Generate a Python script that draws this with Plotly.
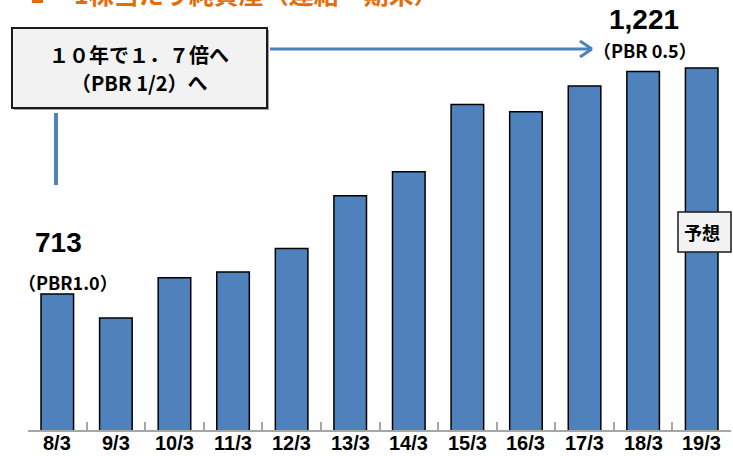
import plotly.graph_objects as go

# ---- data ----
categories = ["8/3", "9/3", "10/3", "11/3", "12/3", "13/3", "14/3",
              "15/3", "16/3", "17/3", "18/3", "19/3"]
net_assets = [713, 658, 750, 763, 817, 937, 992, 1146, 1129, 1188, 1221, 1229]
start_label = "713"
start_pbr = "（PBR1.0）"
end_label = "1,221"
end_pbr = "（PBR 0.5）"
box_line1 = "１０年で１．７倍へ"
box_line2 = "（PBR 1/2）へ"
forecast_label = "予想"
title_text = "1株当たり純資産（連結・期末）"

# ---- layout geometry ----
W, H = 733, 456
L, R, T, B = 28, 2, 36, 26
PW = W - L - R
PH = H - T - B
Y0 = 402
Y1 = Y0 + PH * 2.285

def fx(px):
    return (px - L) / PW

def fy(py):
    return (H - B - py) / PH

JP = "Noto Sans CJK JP, sans-serif"
LAT = "Liberation Sans, sans-serif"
BLUE = "#4F81BD"

fig = go.Figure()
fig.add_trace(go.Bar(
    x=categories, y=net_assets,
    marker=dict(color=BLUE, line=dict(color="#000000", width=1.5)),
    hoverinfo="skip",
))

shapes = []
annotations = []

def note(text, px, py, size, family=JP, color="#000000", xanchor="center"):
    annotations.append(dict(text=text, xref="paper", yref="paper",
                            x=fx(px), y=fy(py), xanchor=xanchor, yanchor="middle",
                            showarrow=False,
                            font=dict(family=family, size=size, color=color, weight="bold")))

# category labels under the axis
for cat in categories:
    annotations.append(dict(text=cat, xref="x", yref="paper", x=cat, y=fy(443),
                            xanchor="center", yanchor="middle", showarrow=False,
                            font=dict(family=LAT, size=20, color="#000000", weight="bold")))

# title (cut at the top)
shapes.append(dict(type="rect", xref="paper", yref="paper",
                   x0=fx(32), x1=fx(43), y0=fy(3), y1=fy(-10),
                   fillcolor="#E46C0A", line=dict(width=0)))
note(title_text, 72, -7, 25, color="#E46C0A", xanchor="left")

# callout box
shapes.append(dict(type="rect", xref="paper", yref="paper",
                   x0=fx(14), x1=fx(269), y0=fy(110), y1=fy(30),
                   fillcolor="#A0A0A0", line=dict(width=0)))
shapes.append(dict(type="rect", xref="paper", yref="paper",
                   x0=fx(12), x1=fx(267), y0=fy(108), y1=fy(28),
                   fillcolor="#F2F2F2", line=dict(color="#1A1A1A", width=2)))
note(box_line1, 139, 54, 20)
note(box_line2, 139, 82, 20)

# blue arrow
shapes.append(dict(type="line", xref="paper", yref="paper",
                   x0=fx(270), x1=fx(592), y0=fy(49), y1=fy(49),
                   line=dict(color=BLUE, width=3)))
shapes.append(dict(type="line", xref="paper", yref="paper",
                   x0=fx(580), x1=fx(592), y0=fy(41), y1=fy(49),
                   line=dict(color=BLUE, width=3)))
shapes.append(dict(type="line", xref="paper", yref="paper",
                   x0=fx(580), x1=fx(592), y0=fy(57), y1=fy(49),
                   line=dict(color=BLUE, width=3)))
# vertical blue line
shapes.append(dict(type="line", xref="paper", yref="paper",
                   x0=fx(56), x1=fx(56), y0=fy(113), y1=fy(185),
                   line=dict(color=BLUE, width=4)))

# start / end labels
note(start_label, 58, 242, 28, family=LAT)
note(start_pbr, 68, 282, 18)
note(end_label, 644, 19, 28, family=LAT)
note(end_pbr, 645, 50, 18)

# forecast box
shapes.append(dict(type="rect", xref="paper", yref="paper",
                   x0=fx(678), x1=fx(731), y0=fy(252), y1=fy(212),
                   fillcolor="#F2F2F2", line=dict(color="#1A1A1A", width=1.5)))
note(forecast_label, 702, 232, 18)

fig.update_layout(
    width=W, height=H,
    margin=dict(l=L, r=R, t=T, b=B, pad=0, autoexpand=False),
    paper_bgcolor="white", plot_bgcolor="white",
    bargap=0.444, showlegend=False,
    shapes=shapes, annotations=annotations,
    xaxis=dict(
        showline=True, linecolor="#A6A6A6", linewidth=2,
        ticks="inside", ticklen=8, tickwidth=1.5, tickcolor="#A6A6A6",
        tickson="boundaries", showgrid=False, zeroline=False, automargin=False,
        showticklabels=False,
        range=[-0.5, len(categories) - 0.5],
    ),
    yaxis=dict(visible=False, range=[Y0, Y1], showgrid=False, zeroline=False,
               automargin=False),
)

fig.write_html("out.html", config={"displayModeBar": False},
               post_script="document.body.style.margin='0';")
